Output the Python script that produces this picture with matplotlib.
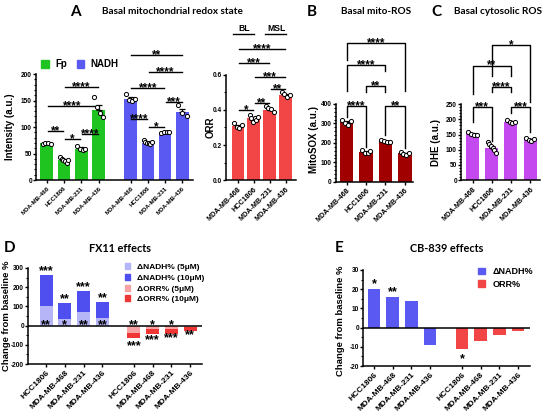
import numpy as np
import matplotlib
matplotlib.use("Agg")
import matplotlib.pyplot as plt
from matplotlib.patches import Patch
from matplotlib.ticker import MultipleLocator, FormatStrFormatter

plt.rcParams['font.family'] = ['Liberation Sans', 'DejaVu Sans']
plt.rcParams['font.weight'] = 'bold'
plt.rcParams['axes.labelweight'] = 'bold'
plt.rcParams['axes.unicode_minus'] = False
plt.rcParams['axes.linewidth'] = 1.1
plt.rcParams['xtick.major.width'] = 1.0
plt.rcParams['ytick.major.width'] = 1.0
plt.rcParams['ytick.minor.width'] = 0.8
plt.rcParams['xtick.major.size'] = 2.5
plt.rcParams['ytick.major.size'] = 2.2
plt.rcParams['ytick.minor.size'] = 1.4
plt.rcParams['xtick.major.pad'] = 1.5
plt.rcParams['ytick.major.pad'] = 0.7

# ---- data -----------------------------------------------------------------
cells = ["MDA-MB-468", "HCC1806", "MDA-MB-231", "MDA-MB-436"]
cells_de = ["HCC1806", "MDA-MB-468", "MDA-MB-231", "MDA-MB-436"]

fp_mean = [69, 37, 59, 133]
fp_sem = [1, 2.5, 2.5, 8]
fp_pts = [[68, 69, 69, 68], [44, 40, 38, 36, 33, 37], [64, 58, 57, 58], [156, 138, 127, 119]]
nadh_mean = [153, 70, 89, 128]
nadh_sem = [4, 1.5, 1, 6]
nadh_pts = [[163, 151, 149, 153], [75, 72, 69, 70, 68, 72], [89, 90, 91, 90], [141, 126, 120]]

orr_mean = [0.31, 0.352, 0.40, 0.486]
orr_sem = [0.007, 0.006, 0.007, 0.005]
orr_pts = [[0.324, 0.305, 0.295, 0.314], [0.371, 0.352, 0.333, 0.356, 0.343, 0.362],
           [0.425, 0.413, 0.404, 0.39], [0.5, 0.49, 0.476, 0.486]]

mito_mean = [307, 155, 207, 146]
mito_sem = [8, 5, 4, 3]
mito_pts = [[318, 300, 292, 310], [165, 150, 148, 158], [215, 208, 205, 203], [152, 144, 140, 146]]

dhe_mean = [151, 107, 192, 134]
dhe_sem = [3, 6, 2, 2]
dhe_pts = [[158, 152, 148, 150], [125, 120, 112, 105, 98, 90], [198, 192, 188, 190], [140, 133, 130, 134]]

fx_nadh5 = [102, 33, 69, 38]
fx_nadh10 = [264, 120, 182, 122]
fx_orr5 = [-40, -17, -17, -6]
fx_orr10 = [-62, -43, -45, -26]
fx_nadh_top = ["***", "**", "***", "**"]
fx_nadh_low = ["**", "*", "**", "**"]
fx_orr_up = ["**", "*", "*", ""]
fx_orr_low = ["***", "***", "***", "**"]

cb_nadh = [20, 16, 14, -9]
cb_orr = [-11, -7, -4, -2]
cb_nadh_sig = ["*", "**", "", ""]
cb_orr_sig = ["*", "", "", ""]

# significance lines (i, j, y, stars)
fp_sig = [(0, 1, 93, "**"), (1, 2, 77, "*"), (2, 3, 87, "****"), (0, 3, 140, "****"), (1, 3, 175, "****")]
nadh_sig = [(0, 1, 115, "****"), (1, 2, 100, "*"), (2, 3, 147, "***"), (0, 2, 174, "****"),
            (1, 3, 203, "****"), (0, 3, 236, "**")]
orr_sig = [(0, 1, 0.40, "*"), (1, 2, 0.438, "**"), (2, 3, 0.52, "**"), (1, 3, 0.59, "***"),
           (0, 2, 0.667, "***"), (0, 3, 0.747, "****")]
# brackets (i, j, top, left end, right end, stars)
mito_sig = [(0, 1, 390, 335, 180, "****"), (2, 3, 390, 240, 172, "**"), (1, 2, 493, 463, 463, "**"),
            (0, 2, 601, 468, 571, "****"), (0, 3, 712, 626, 468, "****")]
dhe_sig = [(0, 1, 241, 192, 128, "***"), (2, 3, 241, 220, 159, "***"), (1, 2, 307, 290, 290, "****"),
           (0, 2, 378, 285, 345, "**"), (1, 3, 447, 345, 256, "*")]

green = "#20c420"
blue = "#5a5af2"
red = "#f24545"
darkred = "#a00000"
purple = "#c44af0"
lblue = "#b5b5f7"
dblue = "#4f4ff0"
lred = "#f7a3a3"
dred = "#f03535"

STAR = 8.5

fig = plt.figure(figsize=(5.5, 4.15), dpi=100)


def add_ax(l, r, t, b):
    return fig.add_axes([l / 550, 1 - b / 415, (r - l) / 550, (b - t) / 415])


def style(ax):
    ax.spines['top'].set_visible(False)
    ax.spines['right'].set_visible(False)
    ax.tick_params(axis='y', labelsize=4.7)


def stars(ax, x, y, txt, dy=-2.2, size=STAR):
    # asterisks sit high in the em box, so anchor on the baseline and pull down
    ax.annotate(txt, (x, y), xytext=(0, dy), textcoords='offset points', ha='center',
                va='baseline', fontsize=size, annotation_clip=False, zorder=5)


def bars_dots(ax, x, mean, sem, pts, color, width, spread):
    ax.bar(x, mean, width=width, color=color, zorder=2)
    ax.errorbar(x, mean, yerr=[np.zeros(len(mean)), sem], fmt='none', ecolor='black',
                elinewidth=0.9, capsize=2, capthick=0.9, zorder=3)
    for xi, p in zip(x, pts):
        off = np.linspace(-spread, spread, len(p))
        ax.scatter(xi + off, p, s=9, facecolor='white', edgecolor='black', linewidth=0.7,
                   zorder=4, clip_on=False)


def sig_line(ax, x1, x2, y, txt):
    ax.plot([x1 + 0.05, x2 - 0.05], [y, y], color='black', lw=1, clip_on=False)
    stars(ax, (x1 + x2) / 2, y, txt)


def sig_bracket(ax, x1, x2, top, b1, b2, txt):
    ax.plot([x1, x1, x2, x2], [b1, top, top, b2], color='black', lw=1, clip_on=False)
    stars(ax, (x1 + x2) / 2, top, txt)


def xlabels(ax, pos, labels, fs):
    ax.set_xticks(pos)
    ax.set_xticklabels(labels, rotation=45, ha='right', rotation_mode='anchor', fontsize=fs)


# ---- A: Fp / NADH ---------------------------------------------------------
ax = add_ax(36, 193, 74, 180)
style(ax)
xf = np.arange(4)
xn = xf + 4.85
bars_dots(ax, xf, fp_mean, fp_sem, fp_pts, green, 0.73, 0.24)
bars_dots(ax, xn, nadh_mean, nadh_sem, nadh_pts, blue, 0.73, 0.24)
for i, j, y, t in fp_sig:
    sig_line(ax, xf[i], xf[j], y, t)
for i, j, y, t in nadh_sig:
    sig_line(ax, xn[i], xn[j], y, t)
ax.set_xlim(-0.62, 8.46)
ax.set_ylim(0, 200)
ax.yaxis.set_major_locator(MultipleLocator(50))
ax.yaxis.set_minor_locator(MultipleLocator(10))
xlabels(ax, np.concatenate([xf, xn]), cells + cells, 4.3)
ax.set_ylabel("Intensity (a.u.)", fontsize=7)
ax.yaxis.set_label_coords((15 - 36) / 157, 0.5)
ax.legend(handles=[Patch(color=green, label="Fp"), Patch(color=blue, label="NADH")],
          ncol=2, loc='center left', bbox_to_anchor=(0.035, 1.09), frameon=False, fontsize=7,
          handlelength=0.8, handleheight=0.8, handletextpad=0.6, columnspacing=1.0,
          borderaxespad=0, borderpad=0)

# ---- A: ORR ---------------------------------------------------------------
ax = add_ax(225.7, 295.7, 75, 180)
style(ax)
xo = np.arange(4)
bars_dots(ax, xo, orr_mean, orr_sem, orr_pts, red, 0.8, 0.26)
for i, j, y, t in orr_sig:
    sig_line(ax, xo[i], xo[j], y, t)
for i, j, t in [(0, 1, "BL"), (2, 3, "MSL")]:
    ax.plot([xo[i] - 0.3, xo[j]], [0.834, 0.834], color='black', lw=1, clip_on=False)
    ax.annotate(t, ((xo[i] + xo[j]) / 2 - 0.1, 0.834), xytext=(0, 2.5), textcoords='offset points',
                ha='center', va='baseline', fontsize=6.2, annotation_clip=False)
ax.set_xlim(-0.77, 3.63)
ax.set_ylim(0, 0.6)
ax.yaxis.set_major_locator(MultipleLocator(0.2))
ax.yaxis.set_minor_locator(MultipleLocator(0.1))
ax.yaxis.set_major_formatter(FormatStrFormatter('%.1f'))
xlabels(ax, xo, cells, 5.2)
ax.set_ylabel("ORR", fontsize=7)
ax.yaxis.set_label_coords((216 - 225.7) / 70, 0.5)

# ---- B: MitoSOX -----------------------------------------------------------
ax = add_ax(335.7, 413, 104, 181.7)
style(ax)
bars_dots(ax, xo, mito_mean, mito_sem, mito_pts, darkred, 0.69, 0.22)
for i, j, top, b1, b2, t in mito_sig:
    sig_bracket(ax, xo[i], xo[j], top, b1, b2, t)
ax.set_xlim(-0.57, 3.42)
ax.set_ylim(0, 400)
ax.yaxis.set_major_locator(MultipleLocator(100))
ax.yaxis.set_minor_locator(MultipleLocator(20))
xlabels(ax, xo, cells, 5.2)
ax.set_ylabel("MitoSOX (a.u.)", fontsize=7)
ax.yaxis.set_label_coords((319 - 335.7) / 77.3, 0.54)

# ---- C: DHE ---------------------------------------------------------------
ax = add_ax(461, 540, 104.3, 180)
style(ax)
bars_dots(ax, xo, dhe_mean, dhe_sem, dhe_pts, purple, 0.68, 0.22)
for i, j, top, b1, b2, t in dhe_sig:
    sig_bracket(ax, xo[i], xo[j], top, b1, b2, t)
ax.set_xlim(-0.61, 3.52)
ax.set_ylim(0, 250)
ax.yaxis.set_major_locator(MultipleLocator(50))
ax.yaxis.set_minor_locator(MultipleLocator(10))
xlabels(ax, xo, cells, 5.2)
ax.set_ylabel("DHE (a.u.)", fontsize=7)
ax.yaxis.set_label_coords((441 - 461) / 79, 0.5)

# ---- D: FX11 --------------------------------------------------------------
ax = add_ax(28, 202, 268, 364)
style(ax)
xd1 = np.arange(4)
xd2 = xd1 + 4.67
ax.bar(xd1, fx_nadh10, width=0.69, color=dblue, zorder=2)
ax.bar(xd1, fx_nadh5, width=0.69, color=lblue, zorder=2)
ax.bar(xd2, fx_orr10, width=0.69, color=dred, zorder=2)
ax.bar(xd2, fx_orr5, width=0.69, color=lred, zorder=2)
ax.axhline(0, color='black', lw=1.1, zorder=3)
for x, v, t in zip(xd1, fx_nadh10, fx_nadh_top):
    stars(ax, x, v, t, dy=0.5, size=9)
for x, t in zip(xd1, fx_nadh_low):
    stars(ax, x, 0, t, dy=-1.5, size=9)
for x, t in zip(xd2, fx_orr_up):
    stars(ax, x, 0, t, dy=-1.5, size=9)
for x, y, t in zip(xd2, [-125, -92, -80, -68], fx_orr_low):
    stars(ax, x, y, t, dy=0, size=9)
ax.set_xlim(-0.96, 8.3)
ax.set_ylim(-200, 300)
ax.yaxis.set_major_locator(MultipleLocator(100))
ax.yaxis.set_minor_locator(MultipleLocator(50))
xlabels(ax, np.concatenate([xd1, xd2]), cells_de + cells_de, 6)
ax.set_ylabel("Change from baseline %", fontsize=6.8)
ax.yaxis.set_label_coords((11 - 28) / 174, 0.5)
ax.legend(handles=[Patch(color=lblue, label="\u0394NADH% (5\u03bcM)"),
                   Patch(color=dblue, label="\u0394NADH% (10\u03bcM)"),
                   Patch(color=lred, label="\u0394ORR% (5\u03bcM)"),
                   Patch(color=dred, label="\u0394ORR% (10\u03bcM)")],
          loc='upper left', bbox_to_anchor=(0.555, 1.05), frameon=False, fontsize=6,
          handlelength=0.7, handleheight=0.7, handletextpad=0.8, labelspacing=0.35,
          borderaxespad=0, borderpad=0)

# ---- E: CB-839 ------------------------------------------------------------
ax = add_ax(363, 530, 270, 366)
style(ax)
xe1 = np.arange(4)
xe2 = xe1 + 4.7
ax.bar(xe1, cb_nadh, width=0.68, color=blue, zorder=2)
ax.bar(xe2, cb_orr, width=0.68, color=red, zorder=2)
ax.axhline(0, color='black', lw=1.1, zorder=3)
for x, v, t in zip(xe1, cb_nadh, cb_nadh_sig):
    stars(ax, x, v, t, dy=1.3, size=9)
for x, v, t in zip(xe2, cb_orr, cb_orr_sig):
    stars(ax, x, v, t, dy=-9.6, size=9)
ax.set_xlim(-0.59, 8.34)
ax.set_ylim(-20, 30)
ax.yaxis.set_major_locator(MultipleLocator(10))
ax.yaxis.set_minor_locator(MultipleLocator(5))
xlabels(ax, np.concatenate([xe1, xe2]), cells_de + cells_de, 6)
ax.set_ylabel("Change from baseline %", fontsize=6.8)
ax.yaxis.set_label_coords((345 - 363) / 167, 0.47)
ax.legend(handles=[Patch(color=blue, label="\u0394NADH%"), Patch(color=red, label="ORR%")],
          loc='upper left', bbox_to_anchor=(0.69, 1.03), frameon=False, fontsize=6.5,
          handlelength=0.7, handleheight=0.7, handletextpad=0.9, labelspacing=0.4,
          borderaxespad=0, borderpad=0)


# ---- titles ---------------------------------------------------------------
def ftext(x, y, s, size, ha='left'):
    fig.text(x / 550, 1 - y / 415, s, ha=ha, va='center', fontsize=size,
             fontweight='bold', family=['Lato', 'DejaVu Sans'])


ftext(75, 12, "A", 11, 'center')
ftext(101.7, 12, "Basal mitochondrial redox state", 7.2)
ftext(311.7, 12, "B", 11, 'center')
ftext(340.7, 12, "Basal mito-ROS", 7.2)
ftext(436.7, 12, "C", 11, 'center')
ftext(454, 12, "Basal cytosolic ROS", 7.2)
ftext(10, 248, "D", 11, 'center')
ftext(120, 248, "FX11 effects", 7.8, 'center')
ftext(339, 248, "E", 11, 'center')
ftext(447, 248, "CB-839 effects", 7.8, 'center')

fig.savefig("out.png", dpi=100)
